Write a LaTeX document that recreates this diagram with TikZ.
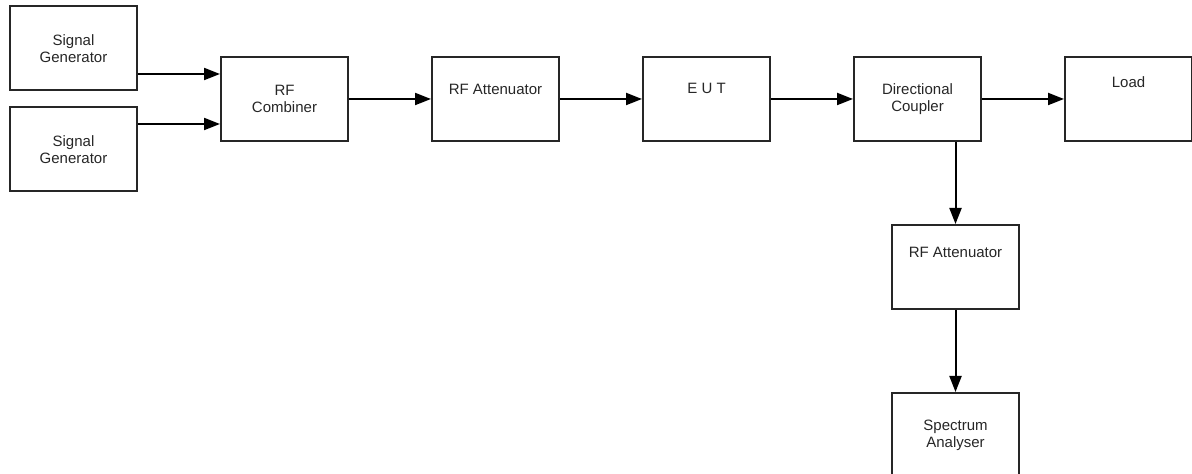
\documentclass[tikz,border=0pt]{standalone}
\usepackage{fontspec}
\setmainfont{Liberation Sans}
\usetikzlibrary{arrows.meta, positioning}

\begin{document}
\begin{tikzpicture}[
    node distance=41pt, auto,
    block/.style={
        draw=black!85, line width=1pt, rectangle, align=center,
        minimum width=63.5pt, minimum height=42pt,
        font=\fontsize{7.5}{8.5}\selectfont, text=black!85
    },
    link/.style={-{Triangle[length=8pt,width=6pt]}, line width=1pt}
]
    % page frame, the last box runs off the bottom
    \useasboundingbox (0,0) rectangle (596pt,-237pt);
    \clip (0,0) rectangle (596pt,-237pt);

    \node[block] (comb) at (142.25pt,-49.5pt) {RF\\ Combiner};
    \node[block, left=of comb, yshift=25.25pt] (sg1) {Signal\\ Generator};
    \node[block, left=of comb, yshift=-25.25pt] (sg2) {Signal\\ Generator};
    \node[block, right=of comb, text depth=10pt] (att1) {RF Attenuator};
    \node[block, right=of att1, text depth=11pt] (eut) {E U T};
    \node[block, right=of eut] (dc) {Directional\\ Coupler};
    \node[block, right=of dc, text depth=17pt] (load) {Load};
    \node[block, below=of dc, xshift=19pt, text depth=15pt] (att2) {RF Attenuator};
    \node[block, below=of att2] (sa) {Spectrum\\ Analyser};

    \coordinate (in1) at ([yshift=12.5pt]comb.west);
    \coordinate (in2) at ([yshift=-12.5pt]comb.west);
    \draw[link] (sg1.east |- in1) -- (in1);
    \draw[link] (sg2.east |- in2) -- (in2);
    \draw[link] (comb) -- (att1);
    \draw[link] (att1) -- (eut);
    \draw[link] (eut) -- (dc);
    \draw[link] (dc) -- (load);
    \draw[link] (dc.south -| att2) -- (att2.north);
    \draw[link] (att2) -- (sa);
\end{tikzpicture}
\end{document}
